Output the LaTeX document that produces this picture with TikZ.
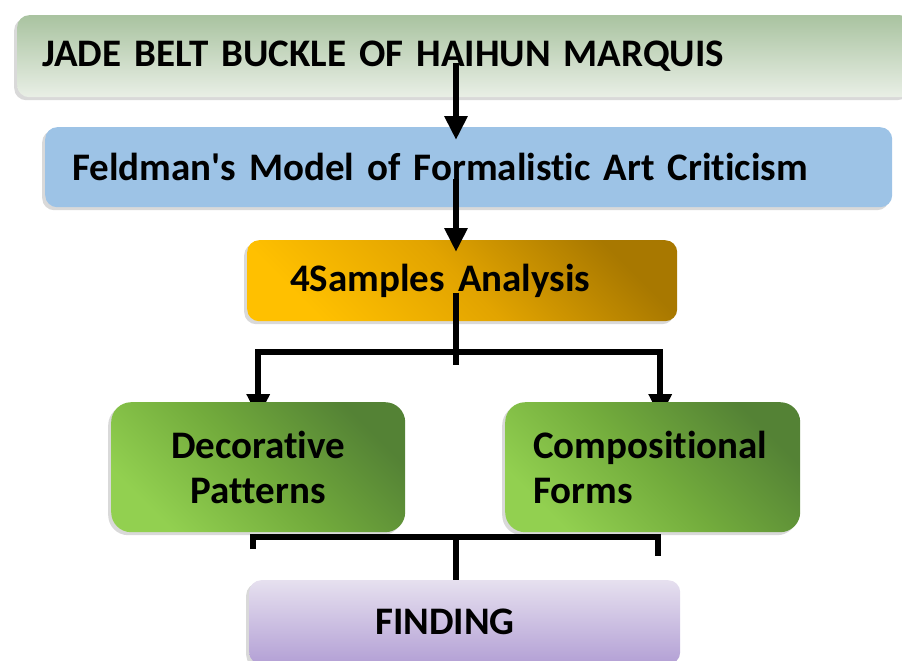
\documentclass[tikz,border=0pt]{standalone}
\usepackage{fontspec}
\setmainfont{Carlito}[Ligatures=NoCommon,WordSpace=0.7]
\usetikzlibrary{arrows.meta,positioning,calc,shadows,backgrounds}
\definecolor{sage}{HTML}{A9C3A0}
\definecolor{mist}{HTML}{E9EFE6}
\definecolor{sky}{HTML}{9DC3E6}
\definecolor{amber}{HTML}{FFC000}
\definecolor{honey}{HTML}{E2A400}
\definecolor{bronze}{HTML}{A87800}
\definecolor{leaf}{HTML}{92D050}
\definecolor{grass}{HTML}{72AB3C}
\definecolor{moss}{HTML}{548235}
\definecolor{lilac}{HTML}{E6E0EF}
\definecolor{lavender}{HTML}{B3A0D5}
\tikzset{stage/.style={anchor=north west,rounded corners=12pt,inner ysep=0pt,align=left,font=\fontsize{39}{45}\selectfont\bfseries,drop shadow={shadow xshift=-3pt,shadow yshift=-3pt,opacity=.3}},flow/.style={draw=black,line width=6pt,-{Triangle[width=22pt,length=24pt]}},bar/.style={draw=black,line width=6pt}}

\begin{document}
\begin{tikzpicture}[x=1pt,y=-1pt]
  \useasboundingbox (0,0) rectangle (902,661);
  \clip (0,0) rectangle (902,661);
  % stages
  \node[stage,top color=sage,bottom color=mist,minimum height=82pt,inner xsep=25pt,text width=845pt] (title) at (17,15) {JADE BELT BUCKLE OF HAIHUN MARQUIS};
  \node[stage,fill=sky,minimum height=80pt,inner xsep=27pt,text width=793pt] (model) at (45,127) {Feldman\textquotesingle s Model of Formalistic Art Criticism};
  \node[stage,top color=bronze,bottom color=amber,middle color=honey,shading angle=-45,minimum height=81pt,inner xsep=43pt,text width=344pt] (samples) at (247,240) {4Samples Analysis};
  \node[stage,top color=moss,bottom color=leaf,middle color=grass,shading angle=-45,rounded corners=20pt,minimum height=130pt,inner xsep=20pt,text width=254pt,align=center] (patterns) at (111,402) {Decorative\\Patterns};
  \node[stage,top color=moss,bottom color=leaf,middle color=grass,shading angle=-45,rounded corners=20pt,minimum height=130pt,inner xsep=28pt,text width=239pt] (forms) at (505,402) {Compositional\\Forms};
  \node[stage,top color=lilac,bottom color=lavender,minimum height=84pt,inner xsep=126pt,text width=179pt] (finding) at (249,580) {FINDING};
  % main line
  \coordinate (spine) at (456,0);
  \draw[flow] ($(title.center -| spine)+(0,7)$) -- ($(model.north -| spine)+(0,13)$);
  \draw[flow] ($(model.center -| spine)+(0,12)$) -- ($(samples.north -| spine)+(0,12)$);
  % split into the two parts
  \coordinate (fork) at ($(samples.south -| spine)+(0,31)$);
  \draw[bar] ($(samples.center -| spine)+(0,12)$) -- ($(samples.south -| spine)+(0,44)$);
  \begin{pgfonlayer}{background}
    \draw[flow] (fork) -| ($(patterns.north)+(0,16)$);
    \draw[flow] (fork) -| ($(forms.north)+(7.5,16)$);
  \end{pgfonlayer}
  % join into the finding
  \coordinate (merge) at ($(finding.north -| spine)+(0,-43)$);
  \draw[bar] ($(merge -| patterns.south)+(-5,12)$) |- ($(merge -| forms.south)+(5,0)$) -- ++(0,19);
  \draw[bar] (merge) -- (finding.north -| spine);
\end{tikzpicture}
\end{document}
